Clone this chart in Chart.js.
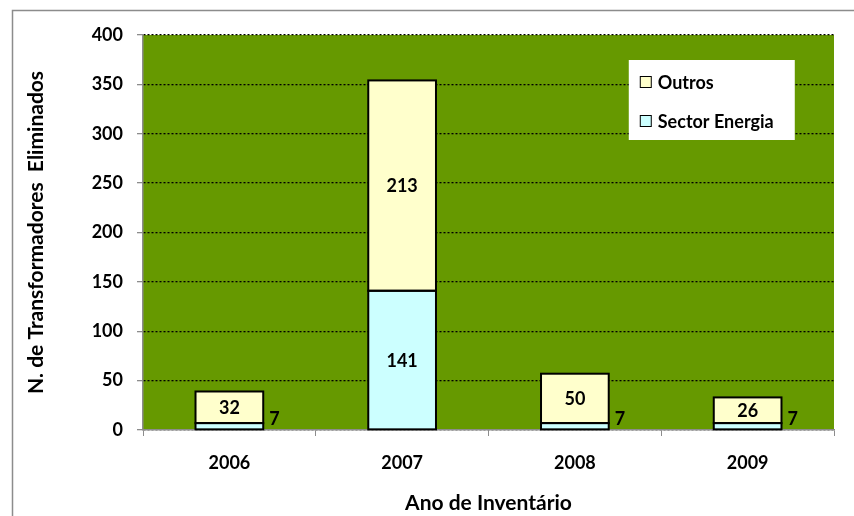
<!DOCTYPE html>
<html><head><meta charset="utf-8">
<script src="https://cdn.jsdelivr.net/npm/chart.js@4"></script>
<style>html,body{margin:0;padding:0;background:#fff}#c{display:block}</style>
</head><body>
<canvas id="c" width="854" height="516"></canvas>
<script>
const categories = ['2006','2007','2008','2009'];
const sectorEnergia = [7,141,7,7];
const outros = [32,213,50,26];
const yTicks = [0,50,100,150,200,250,300,350,400];
const FONT = 'Lato, "Open Sans", sans-serif';

const bgPlugin = {
  id:'bg',
  beforeDraw(chart){
    const {ctx, chartArea:a} = chart;
    ctx.save();
    ctx.fillStyle='#fff'; ctx.fillRect(0,0,chart.width,chart.height);
    ctx.strokeStyle='#8c8c8c'; ctx.lineWidth=1.5;
    ctx.strokeRect(12.5,10.5,chart.width+20,chart.height+20);
    ctx.fillStyle='#669900';
    ctx.fillRect(a.left,a.top,a.right-a.left,a.bottom-a.top);
    ctx.restore();
  }
};
const labelPlugin = {
  id:'lbl',
  afterDatasetsDraw(chart){
    const {ctx} = chart;
    const y0 = chart.scales.y.getPixelForValue(0);
    ctx.save();
    // bar outlines
    ctx.strokeStyle='#000'; ctx.lineWidth=2;
    chart.data.datasets.forEach((ds,di)=>{
      chart.getDatasetMeta(di).data.forEach(bar=>{
        ctx.strokeRect(bar.x-bar.width/2, bar.y, bar.width, bar.base-bar.y);
      });
    });
    ctx.font = 'bold 18px '+FONT;
    ctx.fillStyle='#000';
    chart.data.datasets.forEach((ds,di)=>{
      chart.getDatasetMeta(di).data.forEach((bar,i)=>{
        const v = ds.data[i];
        const h = Math.abs(bar.base - bar.y);
        if (h < 20){
          ctx.textAlign='left'; ctx.textBaseline='middle';
          ctx.fillText(String(v), bar.x + bar.width/2 + 6, y0 - 11);
        } else {
          ctx.textAlign='center'; ctx.textBaseline='middle';
          ctx.fillText(String(v), bar.x, (bar.y+bar.base)/2 + 1);
        }
      });
    });
    // legend box
    const a = chart.chartArea;
    const bx = a.left + (a.right-a.left)*0.703, by = a.top + 25, bw = 166, bh = 80;
    ctx.fillStyle='#fff'; ctx.fillRect(bx,by,bw,bh);
    const items = [chart.data.datasets[1], chart.data.datasets[0]];
    ctx.font='bold 18px '+FONT;
    items.forEach((ds,k)=>{
      const iy = by + 22 + k*39;
      ctx.fillStyle=ds.backgroundColor; ctx.fillRect(bx+11.5,iy-5.5,11,11);
      ctx.strokeStyle='#000'; ctx.lineWidth=1; ctx.strokeRect(bx+11.5,iy-5.5,11,11);
      ctx.fillStyle='#000'; ctx.textAlign='left'; ctx.textBaseline='middle';
      ctx.fillText(ds.label, bx+29, iy+1);
    });
    ctx.restore();
  }
};

new Chart(document.getElementById('c'),{
  type:'bar',
  data:{labels:categories,datasets:[
    {label:'Sector Energia',data:sectorEnergia,backgroundColor:'#ccffff',borderWidth:0,inflateAmount:0,barPercentage:0.8,categoryPercentage:0.49},
    {label:'Outros',data:outros,backgroundColor:'#ffffcc',borderWidth:0,inflateAmount:0,barPercentage:0.8,categoryPercentage:0.49}
  ]},
  options:{
    responsive:false,animation:false,
    layout:{padding:{left:20,right:20,top:35,bottom:0}},
    plugins:{legend:{display:false},tooltip:{enabled:false}},
    scales:{
      x:{stacked:true,
        grid:{display:true,drawOnChartArea:false,color:'#8c8c8c',tickLength:6,offset:true},
        border:{color:'#8c8c8c',width:1.5},
        ticks:{font:{family:FONT,size:18,weight:'bold'},color:'#000',padding:16},
        title:{display:true,text:'Ano de Inventário',font:{family:FONT,size:21,weight:'bold'},color:'#000',padding:{top:24,bottom:0}},
        afterFit(s){s.height=86;}
      },
      y:{stacked:true,min:0,max:400,
        afterBuildTicks(s){s.ticks=yTicks.map(v=>({value:v}));},
        grid:{color:'#000',lineWidth:1.3,tickLength:6,tickColor:'#8c8c8c',tickBorderDash:[]},
        border:{color:'#8c8c8c',width:1.5,dash:[2,2]},
        ticks:{font:{family:FONT,size:18,weight:'bold'},color:'#000',padding:14},
        title:{display:true,text:'N. de Transformadores  Eliminados',font:{family:FONT,size:21,weight:'bold'},color:'#000',padding:{top:4}},
        afterFit(s){s.width=123;}
      }
    }
  },
  plugins:[bgPlugin,labelPlugin]
});
</script>
</body></html>
